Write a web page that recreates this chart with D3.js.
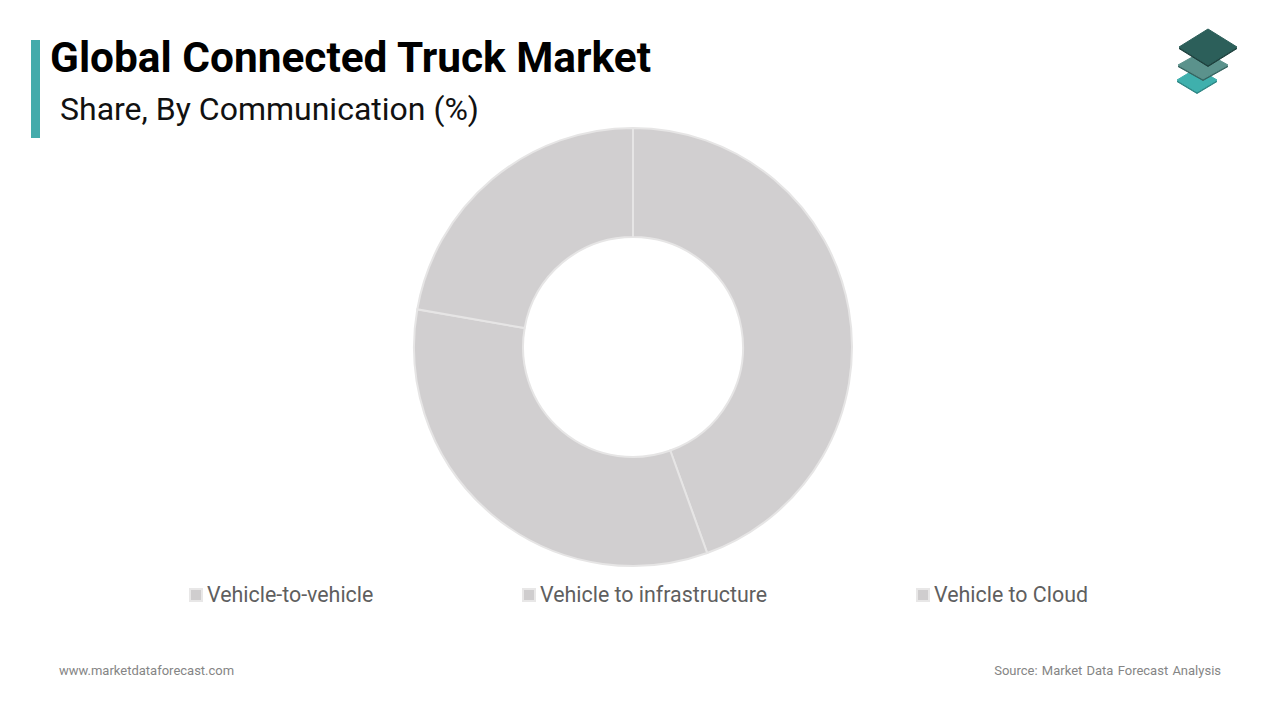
<!DOCTYPE html>
<html>
<head>
<meta charset="utf-8">
<script src="https://cdn.jsdelivr.net/npm/d3@7"></script>
<style>
  html, body { margin: 0; padding: 0; background: #fff; }
  text { font-family: Roboto, sans-serif; }
</style>
</head>
<body>
<svg width="1280" height="720"></svg>
<script>
const categories = ["Vehicle-to-vehicle", "Vehicle to infrastructure", "Vehicle to Cloud"],
    shares = [44.5, 33.25, 22.25];

const legendX = [189, 522, 916];

const width = 1280,
    height = 720,
    cx = 633,
    cy = 347,
    outer = 219,
    inner = 110;

const svg = d3.select("svg");

// header
svg.append("rect")
    .attr("x", 31).attr("y", 40)
    .attr("width", 9).attr("height", 98)
    .attr("fill", "#44abab");

svg.append("text")
    .attr("x", 50).attr("y", 72)
    .attr("font-size", 43)
    .attr("font-weight", 700)
    .attr("textLength", 601)
    .attr("lengthAdjust", "spacingAndGlyphs")
    .attr("fill", "#000")
    .text("Global Connected Truck Market");

svg.append("text")
    .attr("x", 60).attr("y", 120)
    .attr("font-size", 31)
    .attr("textLength", 419)
    .attr("lengthAdjust", "spacingAndGlyphs")
    .attr("fill", "#111")
    .text("Share, By Communication (%)");

// logo, three stacked diamonds
const logo = [
    { fill: "#3fb0ad", shade: "#2b8482", c: [1197, 80], rx: 20, ry: 12 },
    { fill: "#5b928c", shade: "#35635f", c: [1203, 65], rx: 25, ry: 14 },
    { fill: "#2c5f5a", shade: "#1d3f3c", c: [1208, 47], rx: 29, ry: 18 }
];
const logoG = svg.append("g");
logo.forEach(d => {
    const pts = [[d.c[0], d.c[1] - d.ry], [d.c[0] + d.rx, d.c[1]], [d.c[0], d.c[1] + d.ry], [d.c[0] - d.rx, d.c[1]]];
    logoG.append("polygon")
        .attr("points", pts.map(p => [p[0], p[1] + 1.5].join(",")).join(" "))
        .attr("fill", d.shade)
        .attr("stroke", d.shade).attr("stroke-width", 1).attr("stroke-linejoin", "round");
    logoG.append("polygon")
        .attr("points", pts.join(" "))
        .attr("fill", d.fill)
        .attr("stroke", d.fill).attr("stroke-width", 1).attr("stroke-linejoin", "round");
});

// donut
const pie = d3.pie().sort(null).value(d => d);
const arc = d3.arc().innerRadius(inner).outerRadius(outer);

svg.append("g")
    .attr("transform", `translate(${cx},${cy})`)
    .selectAll("path")
    .data(pie(shares))
    .join("path")
    .attr("d", arc)
    .attr("fill", "#d1cfd0")
    .attr("stroke", "#e6e5e5")
    .attr("stroke-width", 2);

// legend
const legend = svg.append("g")
    .selectAll("g")
    .data(categories)
    .join("g")
    .attr("transform", (d, i) => `translate(${legendX[i]},595)`);

legend.append("rect")
    .attr("x", 1).attr("y", -6)
    .attr("width", 12).attr("height", 12)
    .attr("fill", "#cfcdce")
    .attr("stroke", "#e8e7e7")
    .attr("stroke-width", 2);

legend.append("text")
    .attr("x", 18).attr("y", 7)
    .attr("font-size", 21.4)
    .attr("fill", "#5f5f5f")
    .text(d => d);

// footer
svg.append("text")
    .attr("x", 59).attr("y", 675)
    .attr("font-size", 13)
    .attr("fill", "#858585")
    .text("www.marketdataforecast.com");

svg.append("text")
    .attr("x", 1221).attr("y", 675)
    .attr("text-anchor", "end")
    .attr("font-size", 13)
    .attr("word-spacing", 1)
    .attr("fill", "#858585")
    .text("Source: Market Data Forecast Analysis");
</script>
</body>
</html>
